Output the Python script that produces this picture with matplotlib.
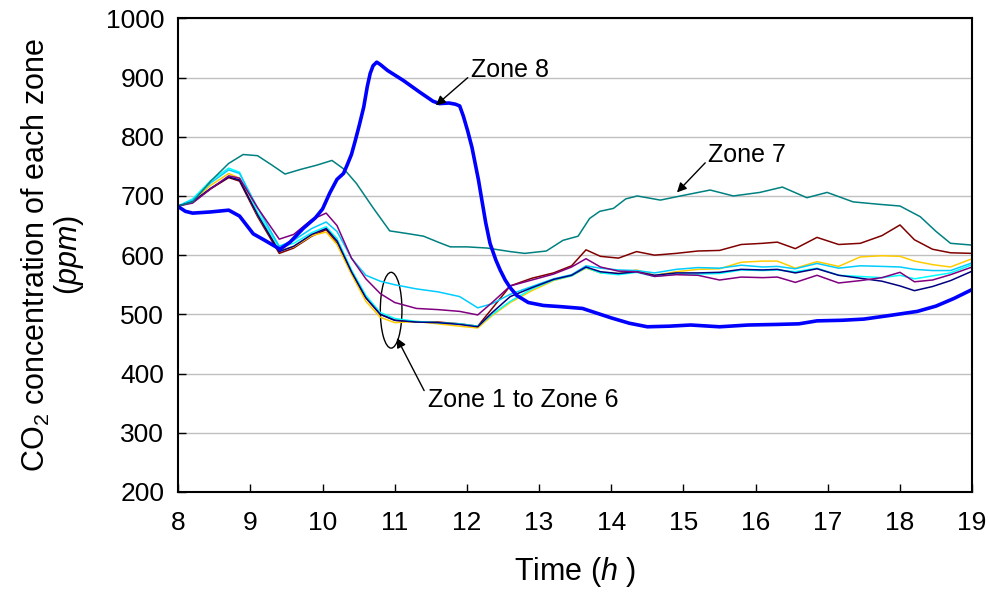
import matplotlib
matplotlib.use("Agg")
import matplotlib.pyplot as plt
from matplotlib.patches import Ellipse

plt.rcParams.update({
    'font.family': ['Liberation Sans', 'DejaVu Sans'],
    'mathtext.fontset': 'custom',
    'mathtext.rm': 'Liberation Sans',
    'mathtext.it': 'Liberation Sans:italic',
})

# shared time axis for zones 1-6 (h)
t_zones = [8.0, 8.2, 8.45, 8.7, 8.85, 9.1, 9.4, 9.6, 9.85, 10.05, 10.2, 10.4, 10.6, 10.8,
           11.0, 11.3, 11.6, 11.9, 12.15, 12.35, 12.6, 12.9, 13.2, 13.45, 13.65, 13.85,
           14.1, 14.35, 14.6, 14.9, 15.2, 15.5, 15.8, 16.1, 16.3, 16.55, 16.85, 17.15,
           17.45, 17.75, 18.0, 18.2, 18.45, 18.7, 19.0]

co2_maroon = [683, 690, 712, 731, 725, 665, 603, 612, 632, 643, 620, 570, 528, 500,
              490, 487, 487, 484, 480, 510, 548, 561, 570, 582, 609, 598,
              595, 606, 600, 603, 607, 608, 618, 620, 622, 611, 630, 618,
              620, 633, 651, 626, 610, 604, 603]
co2_purple = [683, 688, 712, 734, 730, 680, 627, 635, 660, 671, 650, 595, 560, 535,
              520, 510, 508, 505, 499, 520, 548, 558, 568, 580, 594, 580,
              573, 572, 564, 567, 566, 558, 563, 562, 563, 554, 566, 553,
              557, 562, 571, 555, 558, 567, 580]
co2_skyblue = [683, 693, 722, 744, 738, 680, 615, 625, 645, 656, 640, 595, 566, 556,
               550, 543, 538, 530, 511, 518, 534, 547, 560, 567, 582, 578,
               575, 574, 570, 576, 579, 578, 583, 580, 581, 577, 586, 578,
               582, 581, 580, 576, 574, 574, 587]
co2_cyan = [683, 695, 726, 747, 740, 672, 613, 620, 638, 648, 628, 575, 532, 503,
            493, 488, 486, 484, 480, 500, 522, 543, 558, 565, 579, 570,
            567, 571, 564, 568, 568, 569, 575, 574, 575, 572, 578, 566,
            564, 562, 566, 560, 565, 570, 584]
co2_gold = [683, 692, 718, 738, 730, 668, 608, 614, 633, 639, 618, 568, 522, 495,
            486, 488, 484, 480, 477, 498, 520, 540, 557, 565, 578, 570,
            569, 575, 566, 572, 576, 577, 588, 590, 590, 578, 589, 581,
            597, 599, 598, 590, 584, 580, 594]
co2_navy = [683, 690, 713, 732, 727, 668, 606, 615, 635, 645, 624, 572, 528, 500,
            490, 487, 486, 483, 479, 503, 530, 545, 559, 566, 580, 572,
            569, 572, 566, 570, 570, 571, 576, 575, 576, 570, 577, 566,
            561, 556, 548, 540, 547, 557, 573]

# zone 7
t_zone7 = [8.0, 8.2, 8.45, 8.7, 8.9, 9.1, 9.3, 9.48, 9.7, 9.92, 10.13, 10.3, 10.47,
           10.7, 10.93, 11.2, 11.4, 11.6, 11.77, 12.0, 12.28, 12.6, 12.8, 13.1, 13.33,
           13.54, 13.7, 13.84, 14.03, 14.2, 14.36, 14.68, 15.0, 15.37, 15.69, 16.06,
           16.37, 16.71, 16.99, 17.35, 17.7, 18.0, 18.28, 18.5, 18.7, 19.0]
co2_zone7 = [683, 690, 725, 755, 770, 768, 752, 737, 745, 752, 760, 745, 721,
             680, 641, 636, 632, 622, 614, 614, 612, 606, 603, 607, 625,
             632, 662, 674, 679, 695, 700, 693, 701, 710, 700, 706,
             715, 697, 706, 690, 686, 683, 665, 640, 620, 617]

# zone 8
t_zone8 = [8.0, 8.1, 8.2, 8.45, 8.7, 8.85, 9.04, 9.2, 9.41, 9.55, 9.73, 9.9, 10.0,
           10.1, 10.2, 10.29, 10.34, 10.4, 10.45, 10.51, 10.57, 10.62, 10.66, 10.7,
           10.75, 10.8, 10.9, 11.12, 11.35, 11.53, 11.62, 11.75, 11.84, 11.9, 11.95,
           12.01, 12.07, 12.16, 12.2, 12.26, 12.32, 12.4, 12.46, 12.53, 12.6, 12.69,
           12.85, 13.06, 13.3, 13.6, 13.8, 14.0, 14.25, 14.5, 14.8, 15.1, 15.5, 15.9,
           16.3, 16.6, 16.85, 17.2, 17.5, 17.85, 18.24, 18.5, 18.75, 19.0]
co2_zone8 = [682, 674, 671, 673, 676, 666, 636, 625, 610, 622, 645, 663, 678,
             705, 728, 738, 752, 770, 792, 820, 850, 885, 907, 920,
             926, 922, 912, 895, 875, 860, 856, 857, 855, 852, 835,
             810, 782, 727, 698, 655, 620, 592, 575, 558, 545, 532,
             520, 515, 513, 510, 502, 494, 485, 479, 480, 482, 479, 482,
             483, 484, 489, 490, 492, 498, 505, 514, 527, 542]

fig = plt.figure(figsize=(9.9, 5.92), dpi=100)
ax = fig.add_axes([0.18, 0.169, 0.802, 0.8])

zone_series = [
    (co2_maroon, '#800000'),
    (co2_gold, '#FFCC00'),
    (co2_cyan, '#00FFFF'),
    (co2_skyblue, '#00CCFF'),
    (co2_navy, '#000080'),
    (co2_purple, '#800080'),
]
for values, color in zone_series:
    ax.plot(t_zones, values, color=color, lw=1.1, solid_joinstyle='round')
ax.plot(t_zone7, co2_zone7, color='#008080', lw=1.1, solid_joinstyle='round')
ax.plot(t_zone8, co2_zone8, color='#0000FF', lw=2.6, solid_joinstyle='round')

ax.set_xlim(8, 19)
ax.set_ylim(200, 1000)
ax.set_xticks(range(8, 20))
ax.set_yticks(range(200, 1001, 100))
ax.yaxis.grid(True, color='#C0C0C0', lw=1.0)
ax.set_axisbelow(True)
ax.tick_params(direction='in', length=6, width=1, labelsize=19, pad=14)
ax.tick_params(axis='y', pad=10)
for sp in ax.spines.values():
    sp.set_linewidth(1.5)

ax.set_xlabel(r'Time ($\it{h}$ )', fontsize=22, labelpad=14)
ax.set_ylabel('CO$_2$ concentration of each zone\n($\\it{ppm}$)', fontsize=22,
              labelpad=14, linespacing=1.0)

arrow = dict(arrowstyle='-|>', color='black', lw=1.0, mutation_scale=14)
ax.annotate('Zone 8', xy=(11.57, 853), xytext=(12.05, 912), fontsize=18,
            va='center', arrowprops=dict(arrow, shrinkA=0, shrinkB=0,
                                         relpos=(0, 0.3)))
ax.annotate('Zone 7', xy=(14.91, 706), xytext=(15.34, 769), fontsize=18,
            va='center', arrowprops=dict(arrow, shrinkA=0, shrinkB=0,
                                         relpos=(0, 0.3)))
ax.annotate('Zone 1 to Zone 6', xy=(11.03, 460), xytext=(11.46, 355), fontsize=18,
            va='center', arrowprops=dict(arrow, shrinkA=0, shrinkB=0,
                                         relpos=(-0.02, 0.9)))
ax.add_patch(Ellipse((10.95, 507), 0.3, 128, fill=False, ec='black', lw=1.0))

fig.savefig('out.png', dpi=100)
